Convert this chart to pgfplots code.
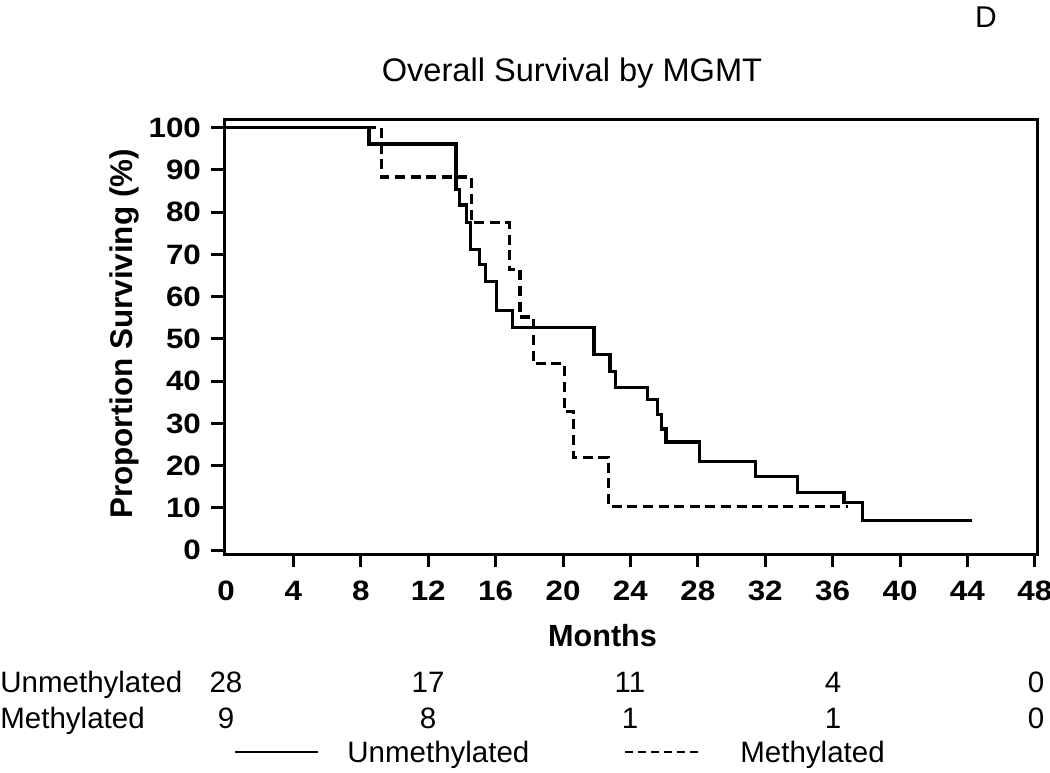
\documentclass[border=0pt]{standalone}
\usepackage{fontspec}
\setmainfont{Liberation Sans}
\newfontfamily\tickfont{Liberation Sans}[FakeStretch=1.12]
\usepackage{pgfplots}
\pgfplotsset{compat=1.18}
\begin{document}
\begin{tikzpicture}
\useasboundingbox (0,0) rectangle (525pt,386pt);
\begin{axis}[
  at={(112pt,109pt)}, anchor=south west,
  width=406.5pt, height=217pt, scale only axis,
  xmin=-0.12, xmax=48.13, ymin=-0.9, ymax=101.8,
  xtick={4,8,...,48}, ytick={0,10,...,100},
  extra x ticks={0}, extra x tick style={tick style={draw=none}},
  xtick pos=bottom, ytick pos=left,
  tick align=outside, major tick length=6.5pt,
  axis line style={line width=1.5pt},
  every tick/.style={line width=1.5pt, black},
  /pgf/number format/assume math mode=true,
  ticklabel style={font=\tickfont\bfseries\fontsize{14}{16}\selectfont},
  xticklabel style={yshift=-3.5pt},
  yticklabel style={xshift=-1.5pt},
  clip=false,
]
\addplot[const plot, line width=1.6pt, black] coordinates {
 (0,100) (8.49,96.1) (13.65,85.3) (13.85,81.7) (14.28,77.5) (14.52,71.1)
 (15.03,67.7) (15.41,63.6) (16.07,56.7) (17.01,52.7) (21.84,46.4) (22.79,42.2)
 (23.10,38.5) (25.0,35.6) (25.6,32.1) (25.83,28.7) (26.11,25.6) (28.09,21.0)
 (31.41,17.5) (33.91,13.7) (36.68,11.3) (37.76,6.95) (44.25,6.95)
};
\addplot[const plot, line width=1.6pt, black, dash pattern=on 5pt off 2.8pt] coordinates {
 (0,100) (9.24,88.3) (14.58,77.5) (16.80,66.4) (17.45,55.2) (18.24,44.1)
 (20.08,32.9) (20.64,22.0) (22.69,10.4) (36.93,10.4)
};
\end{axis}
\begin{scope}[x=0.5pt,y=0.5pt]
% titles and labels
\node[anchor=base, font=\fontsize{16.3}{18}\selectfont] at (572,690) {Overall Survival by MGMT};
\node[anchor=base, font=\fontsize{15}{18}\selectfont] at (986,744) {D};
\node[anchor=base, font=\bfseries\fontsize{15.3}{18}\selectfont] at (602.5,125.5) {Months};
\node[anchor=base, rotate=90, font=\bfseries\fontsize{15.7}{18}\selectfont] at (132,438) {Proportion Surviving (\%)};
% risk table
\begin{scope}[font=\fontsize{14.75}{17}\selectfont]
\node[anchor=base west, inner sep=0pt] at (0,80) {Unmethylated};
\node[anchor=base west, inner sep=0pt] at (0,44) {Methylated};
\foreach \x/\a/\b in {226/28/9, 428/17/8, 630/11/1, 833/4/1, 1036/0/0} {
  \node[anchor=base, inner sep=0pt] at (\x,80) {\a};
  \node[anchor=base, inner sep=0pt] at (\x,44) {\b};
}
% legend
\draw[line width=1.4pt] (235,20) -- (318,20);
\node[anchor=base west, inner sep=0pt] at (347,10) {Unmethylated};
\draw[line width=1.4pt, dash pattern=on 4pt off 2.5pt] (625,20) -- (700,20);
\node[anchor=base west, inner sep=0pt] at (740,10) {Methylated};
\end{scope}
\end{scope}
\end{tikzpicture}
\end{document}
